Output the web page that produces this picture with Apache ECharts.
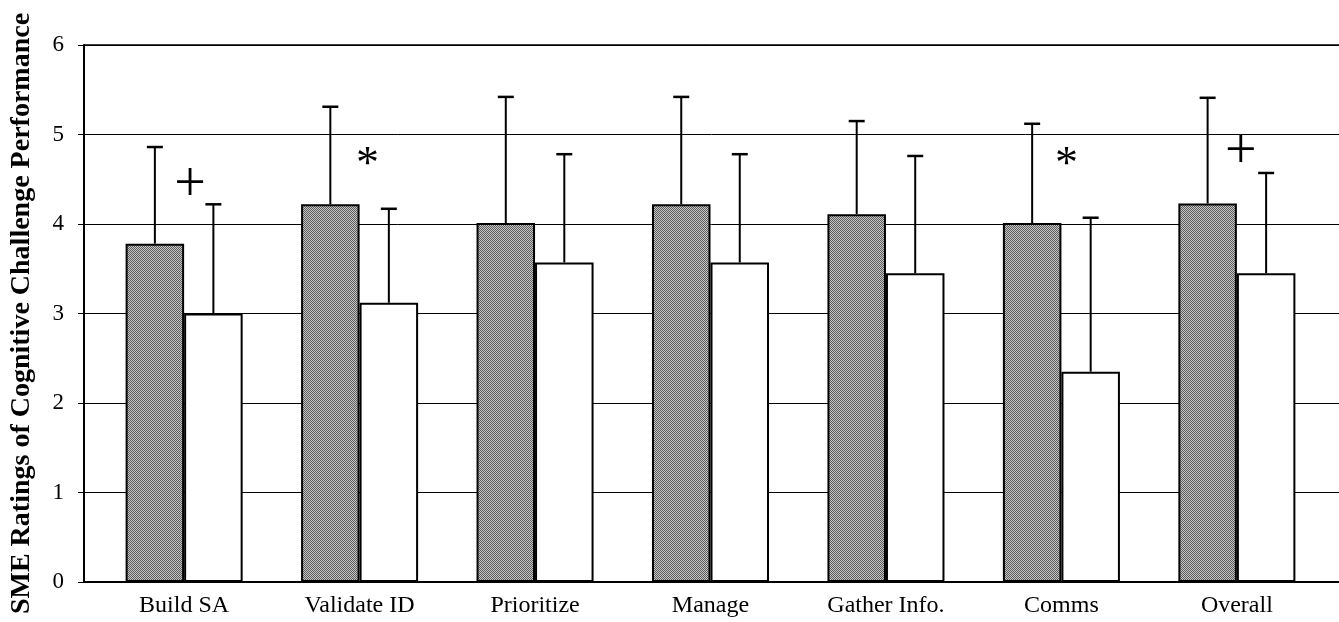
<!DOCTYPE html>
<html>
<head>
<meta charset="utf-8">
<script src="https://cdn.jsdelivr.net/npm/echarts@6/dist/echarts.min.js"></script>
<style>
html,body{margin:0;padding:0;background:#fff;}
#chart{width:1339px;height:622px;}
</style>
</head>
<body>
<div id="chart"></div>
<script>
const categories = ['Build SA', 'Validate ID', 'Prioritize', 'Manage', 'Gather Info.', 'Comms', 'Overall'];
const grayMeans = [3.78, 4.22, 4.01, 4.22, 4.11, 4.01, 4.23];
const grayUpper = [4.86, 5.31, 5.42, 5.42, 5.15, 5.12, 5.41];
const whiteMeans = [3.00, 3.12, 3.57, 3.57, 3.45, 2.35, 3.45];
const whiteUpper = [4.22, 4.17, 4.78, 4.78, 4.76, 4.07, 4.57];
const yTicks = [0, 1, 2, 3, 4, 5, 6];
const markerCats = ['Build SA', 'Validate ID', 'Comms', 'Overall'];
const markerValues = [4.47, 4.75, 4.75, 4.84];
const markerTexts = ['+', '*', '*', '+'];
const markerDx = [6, 8, 5, 4];

const CAT_GAP = 0.333;
const SERIF = '"Liberation Serif","Times New Roman",serif';
const TOP = 45, BOTTOM = 40;

// dithered gray texture
const pc = document.createElement('canvas');
pc.width = 4; pc.height = 4;
const pctx = pc.getContext('2d');
for (let i = 0; i < 4; i++) for (let j = 0; j < 4; j++) {
  pctx.fillStyle = ((i + j) % 2 === 0) ? '#5e5e5e' : '#c4c4c4';
  pctx.fillRect(i, j, 1, 1);
}

function errRender(side) {
  return function (params, api) {
    const idx = api.value(0);
    const lo = api.coord([idx, api.value(1)]);
    const hi = api.coord([idx, api.value(2)]);
    const band = api.size([1, 0])[0];
    const w = band * (1 - CAT_GAP) / 2;
    const x = lo[0] + side * w / 2;
    const cap = 8;
    return {
      type: 'group',
      children: [
        {type: 'line', shape: {x1: x, y1: lo[1], x2: x, y2: hi[1]}, style: {stroke: '#000', lineWidth: 2}},
        {type: 'line', shape: {x1: x - cap, y1: hi[1], x2: x + cap, y2: hi[1]}, style: {stroke: '#000', lineWidth: 2.5}}
      ]
    };
  };
}

const chart = echarts.init(document.getElementById('chart'));
chart.setOption({
  animation: false,
  grid: [
    {left: 82, right: 0, top: TOP, bottom: BOTTOM, containLabel: false},
    {left: 96.4, right: 14.4, top: TOP, bottom: BOTTOM, containLabel: false}
  ],
  xAxis: [
    {
      gridIndex: 0, type: 'value', min: 0, max: 1,
      axisLine: {show: true, onZero: false, lineStyle: {color: '#000', width: 2}},
      axisTick: {show: false}, axisLabel: {show: false}, splitLine: {show: false}
    },
    {
      gridIndex: 0, type: 'value', min: 0, max: 1, position: 'top',
      axisLine: {show: true, onZero: false, lineStyle: {color: '#000', width: 1.6}},
      axisTick: {show: false}, axisLabel: {show: false}, splitLine: {show: false}
    },
    {
      gridIndex: 1, type: 'category', data: categories,
      axisLine: {show: false},
      axisTick: {show: false},
      axisLabel: {color: '#000', fontFamily: SERIF, fontSize: 24, margin: 12}
    }
  ],
  yAxis: [
    {
      gridIndex: 0, type: 'value',
      min: 0, max: 6, interval: 1,
      name: 'SME Ratings of Cognitive Challenge Performance',
      nameLocation: 'middle',
      nameRotate: 90,
      nameGap: 48,
      nameTextStyle: {color: '#000', fontFamily: SERIF, fontSize: 28, fontWeight: 'bold'},
      axisLine: {show: true, lineStyle: {color: '#000', width: 2}},
      axisTick: {show: true, length: 6, lineStyle: {color: '#000', width: 1}},
      axisLabel: {color: '#000', fontFamily: SERIF, fontSize: 23, margin: 20,
        formatter: v => yTicks.indexOf(v) >= 0 ? String(v) : ''},
      splitLine: {show: true, lineStyle: {color: '#000', width: 1}}
    },
    {
      gridIndex: 1, type: 'value', min: 0, max: 6, interval: 1,
      axisLine: {show: false}, axisTick: {show: false}, axisLabel: {show: false}, splitLine: {show: false}
    }
  ],
  series: [
    {
      type: 'bar', xAxisIndex: 2, yAxisIndex: 1, data: grayMeans,
      barGap: '0%', barCategoryGap: (CAT_GAP * 100) + '%',
      itemStyle: {color: {image: pc, repeat: 'repeat'}, borderColor: '#000', borderWidth: 2}
    },
    {
      type: 'bar', xAxisIndex: 2, yAxisIndex: 1, data: whiteMeans,
      itemStyle: {color: '#fff', borderColor: '#000', borderWidth: 2}
    },
    {
      type: 'custom', xAxisIndex: 2, yAxisIndex: 1, renderItem: errRender(-1), z: 5,
      data: grayMeans.map((v, i) => [i, v, grayUpper[i]])
    },
    {
      type: 'custom', xAxisIndex: 2, yAxisIndex: 1, renderItem: errRender(1), z: 5,
      data: whiteMeans.map((v, i) => [i, v, whiteUpper[i]])
    },
    {
      type: 'custom', xAxisIndex: 2, yAxisIndex: 1, z: 6,
      renderItem: function (params, api) {
        const i = params.dataIndex;
        const p = api.coord([api.value(0), api.value(1)]);
        const t = markerTexts[i];
        const fs = t === '*' ? 46 : 56;
        const dy = t === '*' ? 0.19 * fs : 0.083 * fs;
        return {
          type: 'text',
          style: {
            text: t, x: p[0] + markerDx[i], y: p[1] + dy,
            fill: '#000', font: fs + 'px ' + SERIF,
            align: 'center', verticalAlign: 'middle'
          }
        };
      },
      data: markerCats.map((c, i) => [categories.indexOf(c), markerValues[i]])
    }
  ]
});
</script>
</body>
</html>
